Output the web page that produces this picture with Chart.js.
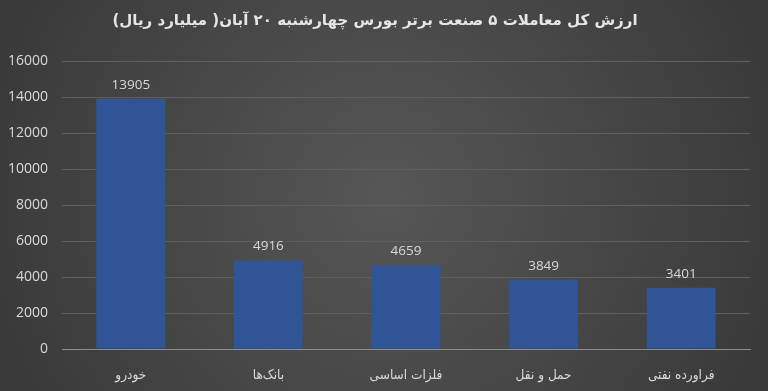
<!DOCTYPE html>
<html>
<head>
<meta charset="utf-8">
<script src="https://cdn.jsdelivr.net/npm/chart.js@4.4.0/dist/chart.umd.min.js"></script>
<style>
  html, body { margin: 0; padding: 0; background: #444; }
  #wrap { width: 768px; height: 391px; }
</style>
</head>
<body>
<div id="wrap"><canvas id="myChart" width="768" height="391"></canvas></div>
<script>
// chart data
const chartTitle = "ارزش کل معاملات ۵ صنعت برتر بورس چهارشنبه ۲۰ آبان( میلیارد ریال)";
const industries = ["خودرو", "بانک‌ها", "فلزات اساسی", "حمل و نقل", "فراورده نفتی"];
const tradeValues = [13905, 4916, 4659, 3849, 3401];
const yTicks = [0, 2000, 4000, 6000, 8000, 10000, 12000, 14000, 16000];

// dark gradient background like the excel chart
const bgPlugin = {
    id: 'bg',
    beforeDraw: function(chart){
        var ctx = chart.ctx;
        var w = chart.width, h = chart.height;
        var g = ctx.createRadialGradient(w/2, h/2, 20, w/2, h/2, w*0.6);
        g.addColorStop(0, '#555555');
        g.addColorStop(1, '#363636');
        ctx.save();
        ctx.fillStyle = g;
        ctx.fillRect(0, 0, w, h);
        ctx.restore();
    }
};

// value labels on top of bars
const valueLabels = {
    id: 'valueLabels',
    afterDatasetsDraw: function(chart){
        var ctx = chart.ctx;
        var meta = chart.getDatasetMeta(0);
        ctx.save();
        ctx.fillStyle = '#d9d9d9';
        ctx.font = '13.5px "Open Sans", sans-serif';
        ctx.textAlign = 'center';
        ctx.textBaseline = 'middle';
        meta.data.forEach(function(bar, i){
            ctx.fillText(tradeValues[i], bar.x, bar.y - 14);
        });
        ctx.restore();
    }
};

const config = {
    type: 'bar',
    data: {
        labels: industries,
        datasets: [{
            data: tradeValues,
            backgroundColor: '#2F5597',
            barPercentage: 0.5,
            categoryPercentage: 1.0
        }]
    },
    options: {
        responsive: false,
        animation: false,
        layout: { padding: { left: 0, right: 18, top: 0, bottom: 0 } },
        plugins: {
            legend: { display: false },
            tooltip: { enabled: false },
            title: {
                display: true,
                text: chartTitle,
                color: '#e6e6e6',
                font: { family: '"DejaVu Sans", sans-serif', size: 15, weight: 'bold' },
                padding: { top: 12, bottom: 31 }
            }
        },
        scales: {
            x: {
                grid: { display: false },
                border: { color: '#8c8c8c', width: 1 },
                afterFit: function(axis){ axis.height = 42; },
                ticks: {
                    color: '#d9d9d9',
                    font: { family: '"DejaVu Sans Condensed", "DejaVu Sans", sans-serif', size: 13.5 },
                    padding: 10
                }
            },
            y: {
                min: 0,
                max: 16000,
                afterBuildTicks: function(axis){
                    axis.ticks = yTicks.map(function(v){ return { value: v }; });
                },
                afterFit: function(axis){ axis.width = 62; },
                grid: { color: '#5f5f5f', drawTicks: false },
                border: { display: false },
                ticks: {
                    color: '#d9d9d9',
                    font: { family: '"Open Sans", sans-serif', size: 14 },
                    padding: 14,
                    callback: function(v){ return v; }
                }
            }
        }
    },
    plugins: [bgPlugin, valueLabels]
};

new Chart(document.getElementById("myChart").getContext("2d"), config);
</script>
</body>
</html>
